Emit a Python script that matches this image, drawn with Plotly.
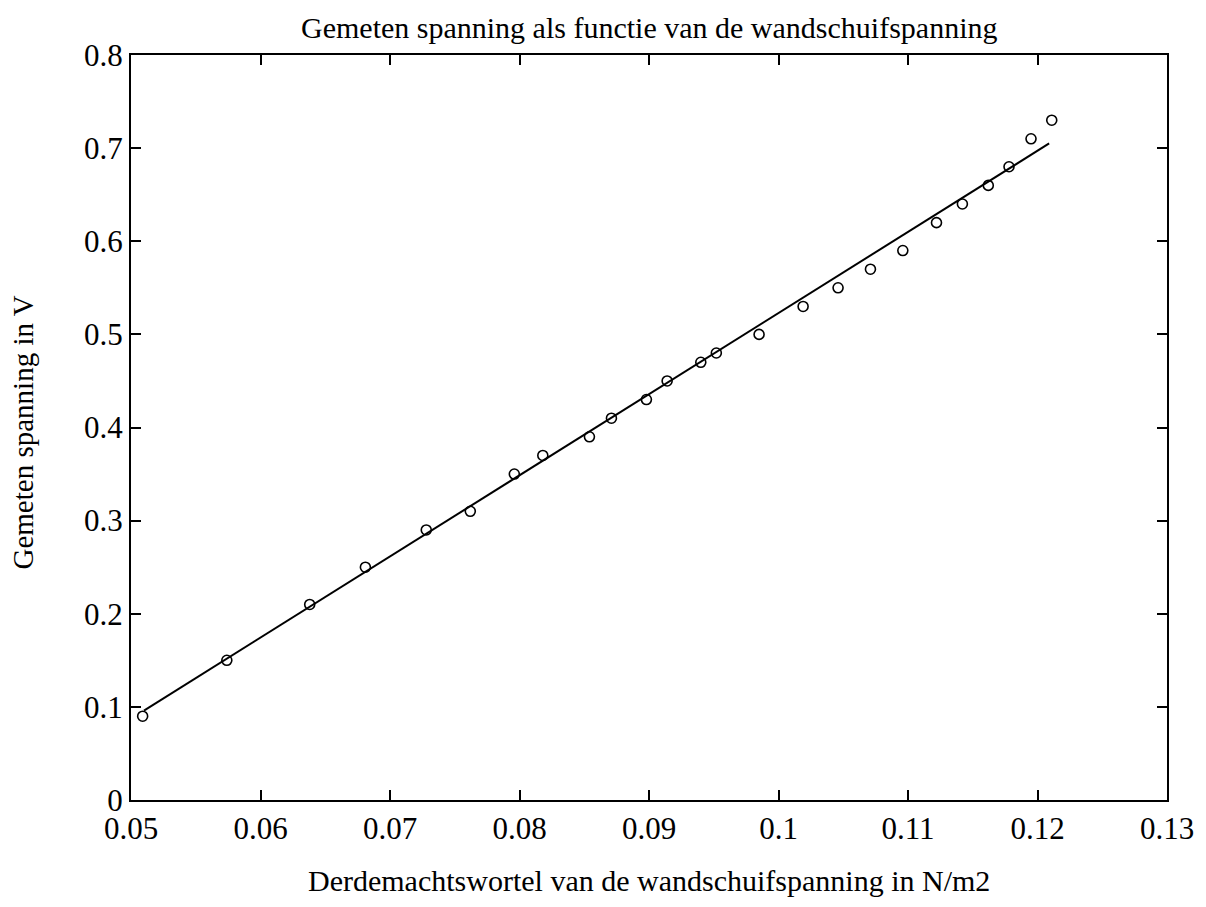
import numpy as np
import plotly.graph_objects as go

x_data = [0.0509, 0.0574, 0.0638, 0.0681, 0.0728, 0.0762, 0.0796, 0.0818,
          0.0854, 0.0871, 0.0898, 0.0914, 0.0940, 0.0952, 0.0985, 0.1019,
          0.1046, 0.1071, 0.1096, 0.1122, 0.1142, 0.1162, 0.1178, 0.1195, 0.1211]
y_data = [0.09, 0.15, 0.21, 0.25, 0.29, 0.31, 0.35, 0.37,
          0.39, 0.41, 0.43, 0.45, 0.47, 0.48, 0.50, 0.53,
          0.55, 0.57, 0.59, 0.62, 0.64, 0.66, 0.68, 0.71, 0.73]

# Fitted line end points
fit_x = [0.0510, 0.1209]
fit_y = [0.096, 0.705]

x_ticks = [0.05, 0.06, 0.07, 0.08, 0.09, 0.1, 0.11, 0.12, 0.13]
x_tick_text = ["0.05", "0.06", "0.07", "0.08", "0.09", "0.1", "0.11", "0.12", "0.13"]
y_ticks = [0, 0.1, 0.2, 0.3, 0.4, 0.5, 0.6, 0.7, 0.8]
y_tick_text = ["0", "0.1", "0.2", "0.3", "0.4", "0.5", "0.6", "0.7", "0.8"]

title_text = "Gemeten spanning als functie van de wandschuifspanning"
x_title = "Derdemachtswortel van de wandschuifspanning in N/m2"
y_title = "Gemeten spanning in V"

FONT = "Liberation Serif, Times New Roman, serif"

fig = go.Figure()
fig.add_trace(go.Scatter(
    x=fit_x, y=fit_y, mode="lines",
    line=dict(color="black", width=2),
    showlegend=False, hoverinfo="skip"))
fig.add_trace(go.Scatter(
    x=x_data, y=y_data, mode="markers",
    marker=dict(symbol="circle-open", size=10, color="black",
                line=dict(color="black", width=1.6)),
    showlegend=False))

axis_common = dict(
    showgrid=False, zeroline=False, showline=True, linecolor="black",
    linewidth=2, mirror="ticks", ticks="inside", ticklen=10, tickwidth=1.5,
    tickcolor="black", tickfont=dict(family=FONT, size=31, color="black"),
)

fig.update_xaxes(range=[0.05, 0.13], tickvals=x_ticks, ticktext=x_tick_text,
                 **axis_common)
fig.update_yaxes(range=[0, 0.8], tickvals=y_ticks, ticktext=y_tick_text,
                 **axis_common)

fig.update_layout(
    width=1206, height=907,
    margin=dict(l=131, r=34, t=55, b=107),
    paper_bgcolor="white", plot_bgcolor="white",
    font=dict(family=FONT, color="black"),
    annotations=[
        dict(text=title_text, xref="paper", yref="paper", x=0.5, y=1,
             xanchor="center", yanchor="middle", yshift=28, showarrow=False,
             font=dict(family=FONT, size=30, color="black")),
        dict(text=x_title, xref="paper", yref="paper", x=0.5, y=0,
             xanchor="center", yanchor="middle", yshift=-80, showarrow=False,
             font=dict(family=FONT, size=30, color="black")),
        dict(text=y_title, xref="paper", yref="paper", x=0, y=0.5,
             xanchor="center", yanchor="middle", xshift=-109, yshift=-5,
             textangle=-90, showarrow=False,
             font=dict(family=FONT, size=29, color="black")),
    ],
)

fig.write_html("out.html")
